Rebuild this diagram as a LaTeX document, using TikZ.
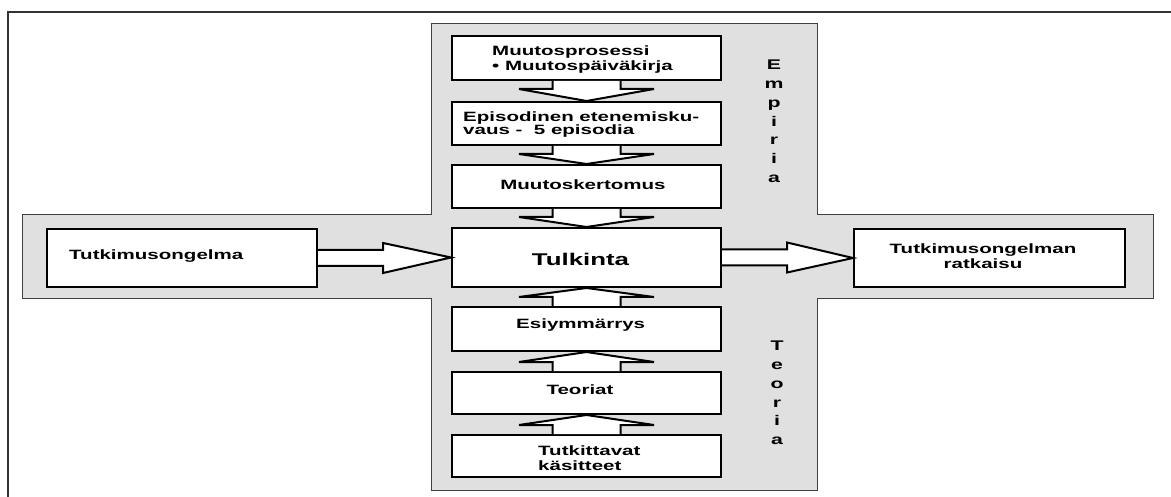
\documentclass[tikz,border=0pt]{standalone}
\usepackage{fontspec}
\setmainfont{Liberation Sans}[FakeStretch=1.52]
\usetikzlibrary{calc}

% block arrows between named boxes
\newcommand\downblock[2]{%
  \draw[blockarrow] ($(#1.south)+(-34,1)$) -- ($(#1.south)+(-34,9)$) -- ($(#1.south)+(-67.5,9)$)
    -- ($(#2.north)+(0,-1)$) -- ($(#1.south)+(67.5,9)$) -- ($(#1.south)+(34,9)$) -- ($(#1.south)+(34,1)$);}
\newcommand\upblock[2]{%
  \draw[blockarrow] ($(#1.north)+(-34,-1)$) -- ($(#1.north)+(-34,-10)$) -- ($(#1.north)+(-67.5,-10)$)
    -- ($(#2.south)+(0,1)$) -- ($(#1.north)+(67.5,-10)$) -- ($(#1.north)+(34,-10)$) -- ($(#1.north)+(34,-1)$);}
\newcommand\rightblock[2]{%
  \draw[blockarrow] ($(#1.east)+(1,-8)$) -- ($(#1.east)+(66,-8)$) -- ($(#1.east)+(66,-15)$)
    -- ($(#2.west)+(-1,0)$) -- ($(#1.east)+(66,15)$) -- ($(#1.east)+(66,8)$) -- ($(#1.east)+(1,8)$);}

\begin{document}
\begin{tikzpicture}[x=1pt,y=-1pt,
  box/.style={draw=black, line width=2pt, fill=white, minimum width=269pt, inner sep=0pt, outer sep=0pt},
  txt/.style={font=\fontsize{13.5}{15.7}\selectfont\bfseries, inner sep=0pt},
  vtxt/.style={font=\fontsize{14}{18.8}\selectfont\bfseries, inner sep=0pt, align=center},
  blockarrow/.style={draw=black, line width=2pt, fill=white, line join=miter},
  panel/.style={draw=black!75, line width=1pt, fill=black!12},
  frame/.style={draw=black!80, line width=1.5pt}]
\useasboundingbox (0,0) rectangle (1171,497);

% outer frame
\draw[frame] (8,497) -- (8,12) -- (1171,12);

% grey cross: Empiria / Teoria column and the horizontal band
\draw[panel] (431,24) -- (817,24) -- (817,215) -- (1153,215) -- (1153,299) -- (817,299)
  -- (817,490) -- (431,490) -- (431,299) -- (22,299) -- (22,215) -- (431,215) -- cycle;

% boxes
\node[box, minimum height=44pt] (b1) at (586.5,58) {};
\node[box, minimum height=43pt] (b2) at (586.5,123.5) {};
\node[box, minimum height=43pt] (b3) at (586.5,186.5) {};
\node[box, minimum height=59pt] (tul) at (586.5,257.5) {};
\node[box, minimum height=44pt] (es) at (586.5,329) {};
\node[box, minimum height=42pt] (te) at (586.5,393) {};
\node[box, minimum height=42pt] (tk) at (586.5,456) {};
\node[box, minimum height=58pt, minimum width=270pt] (prob) at (182,258) {};
\node[box, minimum height=58pt, minimum width=271pt] (sol) at (989.5,258) {};

% arrows
\downblock{b1}{b2}
\downblock{b2}{b3}
\downblock{b3}{tul}
\upblock{es}{tul}
\upblock{te}{es}
\upblock{tk}{te}
\rightblock{prob}{tul}
\rightblock{tul}{sol}

% texts (base = baseline of the last line)
\node[txt, anchor=base west, align=left] (t1) at (492,71) {Muutosprosessi\\• Muutospäiväkirja};
\node[txt, anchor=base west, align=left, font=\fontsize{13.5}{12.7}\selectfont\bfseries] (t2) at (463,134.4) {Episodinen etenemisku-\\vaus - \ 5 episodia};
\node[txt, anchor=base] (t3) at (583,189.3) {Muutoskertomus};
\node[txt, anchor=base, font=\fontsize{17}{20}\selectfont\bfseries] (t4) at (580.5,265.7) {Tulkinta};
\node[txt, anchor=base] (t5) at (580.7,328) {Esiymmärrys};
\node[txt, anchor=base] (t6) at (580,394.3) {Teoriat};
\node[txt, anchor=base west, align=left, font=\fontsize{13.5}{15}\selectfont\bfseries] (t7) at (538,470) {Tutkittavat\\käsitteet};
\node[txt, anchor=base west] (t8) at (69,260) {Tutkimusongelma};
\node[txt, anchor=base, align=center, font=\fontsize{13.5}{15}\selectfont\bfseries] (t9) at (983,268.3) {Tutkimusongelman\\ratkaisu};

% side labels
\node[vtxt, anchor=base] (emp) at (774,182.5) {E\\m\\p\\i\\r\\i\\a};
\node[vtxt, anchor=base] (teo) at (777,444.7) {T\\e\\o\\r\\i\\a};
\end{tikzpicture}
\end{document}
